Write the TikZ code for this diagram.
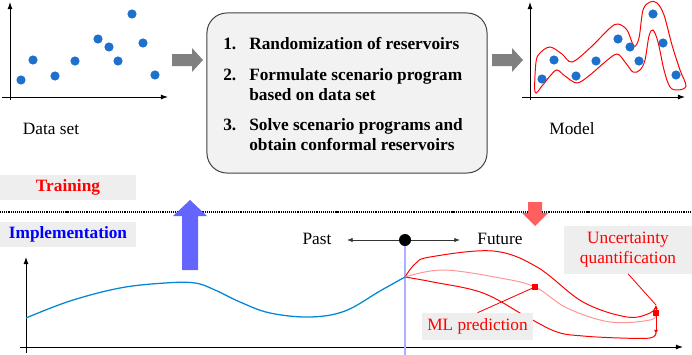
\documentclass[tikz,border=0pt]{standalone}
\usepackage{fontspec}
\setmainfont{Liberation Serif}
\usetikzlibrary{arrows.meta, positioning, calc}
\definecolor{dotblue}{RGB}{30,112,205}
\definecolor{curveblue}{RGB}{0,135,215}
\definecolor{boxfill}{RGB}{242,242,242}
\definecolor{tagfill}{RGB}{238,238,238}
\definecolor{fatgray}{RGB}{128,128,128}
\definecolor{fatblue}{RGB}{100,100,255}
\definecolor{fatred}{RGB}{255,95,95}
\definecolor{nowblue}{RGB}{175,175,255}
\definecolor{midred}{RGB}{255,150,150}

\begin{document}
\begin{tikzpicture}[
    x=0.025cm, y=-0.025cm,
    font=\fontsize{12.3}{14.2}\selectfont,
    axis/.style={-{Latex[length=5pt, width=3.5pt]}, line width=0.6pt},
    dot/.style={circle, fill=dotblue, inner sep=0pt, minimum size=0.23cm},
    steps/.style={draw=black!75, fill=boxfill, line width=0.7pt, rounded corners=0.5cm, minimum width=7cm, minimum height=4cm},
    stepline/.style={anchor=base west, inner sep=0pt, font=\fontsize{12.3}{14.2}\selectfont\bfseries},
    tag/.style={fill=tagfill, inner sep=0pt, align=center},
    band/.style={red, line width=0.7pt},
    ptr/.style={red, line width=0.6pt},
    tarr/.style={-{Latex[length=4pt, width=3pt]}, line width=0.5pt, black!80}
]
\useasboundingbox (0,0) rectangle (692,355);

% data set
\draw[axis] (10,100) -- (10,2);
\draw[axis] (2,97) -- (168,97);
\foreach \x/\y [count=\i] in {21/80, 33/60, 55/76, 75/61, 98/39, 109/47, 118/61, 132/14, 143/43, 155/75}
    \node[dot] (d\i) at (\x,\y) {};
\node (dataset) at (51,129) {Data set};

% model
\draw[axis] (530,100) -- (530,2);
\draw[axis] (522,97) -- (685,97);
\draw[band] plot[smooth cycle, tension=0.55] coordinates {
    (535,92) (536,62) (540,53) (550,47) (562,54) (572,62) (590,48) (610,28) (618,24)
    (627,30) (634,46) (639,38) (643,10) (650,2) (657,3) (664,15) (672,45) (680,70)
    (686,86) (678,90) (670,87) (664,70) (658,42) (653,30) (649,36) (645,60) (640,70)
    (633,72) (625,62) (617,54) (605,62) (590,75) (577,83) (565,76) (557,70) (550,76) (542,86)};
\foreach \x/\y [count=\i] in {542/79, 554/60, 576/76, 596/61, 618/39, 630/47, 639/61, 653/14, 663/43, 676/75}
    \node[dot] (m\i) at (\x,\y) {};
\node (model) at (572,129) {Model};

% steps
\node[steps] (box) at (347,93) {};
\node[stepline] (n1) at (223,50) {1.};
\node[stepline] (s1) at (249,50) {Randomization of reservoirs};
\node[stepline] (n2) at (223,80) {2.};
\node[stepline] (s2) at (249,80) {Formulate scenario program};
\node[stepline] (s2b) at (249,100) {based on data set};
\node[stepline] (n3) at (223,130) {3.};
\node[stepline] (s3) at (249,130) {Solve scenario programs and};
\node[stepline] (s3b) at (249,150) {obtain conformal reservoirs};

\fill[fatgray] (172,54) -- (192,54) -- (192,48) -- (203,60) -- (192,72) -- (192,66) -- (172,66) -- cycle;
\fill[fatgray] (492,54) -- (512,54) -- (512,48) -- (523,60) -- (512,72) -- (512,66) -- (492,66) -- cycle;

% training / implementation
\node[tag, minimum width=3.4cm, minimum height=0.625cm, text=red, font=\fontsize{12.3}{14.2}\selectfont\bfseries] (training) at (68,187.5) {Training};
\node[tag, minimum width=3.4cm, minimum height=0.625cm, text=blue, font=\fontsize{12.3}{14.2}\selectfont\bfseries] (impl) at (68,234.5) {Implementation};
\draw[line width=0.9pt, dash pattern=on 0.8pt off 0.7pt] (0,212) -- (692,212);
\fill[fatblue] (182,270) -- (182,216) -- (173,216) -- (190,200) -- (207,216) -- (198,216) -- (198,270) -- cycle;
\fill[fatred] (528,202) -- (528,213) -- (522,213) -- (535,226) -- (548,213) -- (542,213) -- (542,202) -- cycle;

% time series
\draw[axis] (26,353) -- (26,257);
\draw[axis] (20,347) -- (683,347);
\node[circle, fill=black, inner sep=0pt, minimum size=0.3cm] (now) at (405,240) {};
\coordinate (nowbot) at (405,355);
\draw[nowblue, line width=0.8pt] (now) -- (nowbot);
\coordinate (pastend) at (347,240);
\coordinate (futend) at (460,240);
\draw[tarr] (now) -- (pastend);
\draw[tarr] (now) -- (futend);
\node (past) at (317,239) {Past};
\node (future) at (500,239) {Future};

\draw[curveblue, line width=0.9pt] plot[smooth, tension=0.6] coordinates {
    (26,318) (70,301) (120,288) (165,283) (195,283) (215,290) (240,302) (270,313) (310,317) (345,311) (380,291) (405,277)};
\draw[band] plot[smooth, tension=0.6] coordinates {
    (405,277) (415,264) (430,257) (493,251) (537,267) (583,302) (627,317) (650,313) (656,306)};
\draw[band] plot[smooth, tension=0.6] coordinates {
    (405,277) (433,282) (483,293) (527,317) (557,332) (583,336) (620,338) (650,338) (656,333)};
\draw[midred, line width=0.7pt] plot[smooth, tension=0.6] coordinates {
    (405,277) (443,270) (500,278) (535,287) (567,308) (610,322) (650,320) (656,313)};

\coordinate (uqtop) at (656,305);
\coordinate (uqbot) at (656,334);
\draw[red, line width=0.6pt, {Latex[length=3pt, width=3pt]}-{Latex[length=3pt, width=3pt]}] (uqtop) -- (uqbot);
\node[fill=red, inner sep=0pt, minimum size=0.14cm] (uqsq) at (656,313) {};
\node[fill=red, inner sep=0pt, minimum size=0.14cm] (mlsq) at (535,287) {};

\node[tag, minimum width=3.175cm, minimum height=1.175cm, text=red] (uqtag) at (628,250) {Uncertainty\\quantification};
\node[tag, minimum width=2.775cm, minimum height=0.675cm, text=red] (mltag) at (477.5,326.5) {ML prediction};
\draw[ptr] (uqtag.south) -- (uqtop);
\draw[ptr] (mltag.north) -- (mlsq);
\end{tikzpicture}
\end{document}
